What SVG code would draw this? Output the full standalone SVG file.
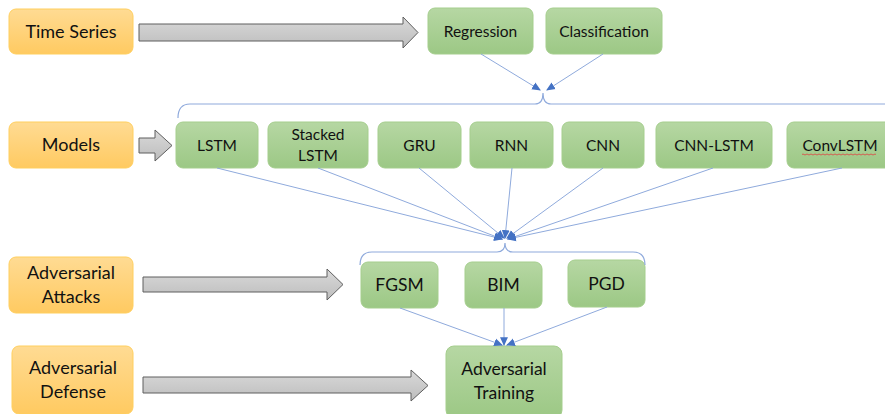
<svg xmlns="http://www.w3.org/2000/svg" width="885" height="414" viewBox="0 0 885 414">
<defs>
<linearGradient id="gOr" x1="0" y1="0" x2="0" y2="1"><stop offset="0" stop-color="#FFDB93"/><stop offset="1" stop-color="#FFCA61"/></linearGradient>
<linearGradient id="gGr" x1="0" y1="0" x2="0" y2="1"><stop offset="0" stop-color="#B6D7A3"/><stop offset="1" stop-color="#9CC885"/></linearGradient>
<linearGradient id="gAr" x1="0" y1="0" x2="0" y2="1"><stop offset="0" stop-color="#D9D9D9"/><stop offset="1" stop-color="#BDBDBD"/></linearGradient>
<marker id="ah" markerUnits="userSpaceOnUse" markerWidth="9" markerHeight="9" viewBox="0 0 8 8" refX="7" refY="4" orient="auto"><path d="M0,0.5 L8,4 L0,7.5 Z" fill="#4472C4"/></marker>
<style>
.or{fill:url(#gOr);stroke:#FFCF5F;stroke-width:1}
.gr{fill:url(#gGr);stroke:#A5CE8D;stroke-width:1}
.ar{fill:url(#gAr);stroke:#5E5E5E;stroke-width:1}
.cn{fill:none;stroke:#8FAADC;stroke-width:1}
.br{fill:none;stroke:#8FAADC;stroke-width:1.2}
text{font-family:Lato,"Open Sans","Liberation Sans",sans-serif;fill:#111;text-anchor:middle}
.lb{font-size:18px}
.bx{font-size:15.5px}
.bg{font-size:17.5px}
</style>
</defs>
<g id="time-series"><rect class="or" x="9" y="9" width="124" height="45" rx="7"/><text class="lb" x="71" y="38">Time Series</text></g>
<g id="models"><rect class="or" x="9" y="122" width="124" height="46" rx="7"/><text class="lb" x="71" y="151">Models</text></g>
<g id="adversarial-attacks"><rect class="or" x="9" y="257" width="124" height="56" rx="7"/><text class="lb" x="71" y="279">Adversarial</text><text class="lb" x="71" y="303">Attacks</text></g>
<g id="adversarial-defense"><rect class="or" x="12" y="346" width="121" height="68" rx="7"/><text class="lb" x="73" y="374">Adversarial</text><text class="lb" x="73" y="398">Defense</text></g>
<g id="arrows">
<path class="ar" d="M139,24 H403 V17 L418,32.5 L403,48 V41 H139 Z"/>
<path class="ar" d="M139,138 H155 V130 L172,145.5 L155,161 V153 H139 Z"/>
<path class="ar" d="M143,277 H327 V269 L343,284.5 L327,300 V292 H143 Z"/>
<path class="ar" d="M143,377 H411 V370 L428,385.5 L411,401 V393 H143 Z"/>
</g>
<g id="regression"><rect class="gr" x="428" y="8" width="105" height="46" rx="7"/><text class="bx" x="480.5" y="37">Regression</text></g>
<g id="classification"><rect class="gr" x="546" y="8" width="116" height="46" rx="7"/><text class="bx" x="604" y="37">Classification</text></g>
<g id="lstm"><rect class="gr" x="176" y="122" width="82" height="46" rx="7"/><text class="bx" x="217" y="151">LSTM</text></g>
<g id="stacked-lstm"><rect class="gr" x="268" y="122" width="100" height="46" rx="7"/><text class="bx" x="318" y="140">Stacked</text><text class="bx" x="318" y="161">LSTM</text></g>
<g id="gru"><rect class="gr" x="378" y="122" width="83" height="46" rx="7"/><text class="bx" x="419.5" y="151">GRU</text></g>
<g id="rnn"><rect class="gr" x="470" y="122" width="83" height="46" rx="7"/><text class="bx" x="511.5" y="151">RNN</text></g>
<g id="cnn"><rect class="gr" x="562" y="122" width="82" height="46" rx="7"/><text class="bx" x="603" y="151">CNN</text></g>
<g id="cnn-lstm"><rect class="gr" x="656" y="122" width="116" height="46" rx="7"/><text class="bx" x="714" y="151">CNN-LSTM</text></g>
<g id="convlstm"><rect class="gr" x="787" y="122" width="106" height="46" rx="7"/><text class="bx" x="840" y="151">ConvLSTM</text><path d="M802,154.5 q1,-1 2,0 t2,0 t2,0 t2,0 t2,0 t2,0 t2,0 t2,0 t2,0 t2,0 t2,0 t2,0 t2,0 t2,0 t2,0 t2,0 t2,0 t2,0 t2,0 t2,0 t2,0 t2,0 t2,0 t2,0 t2,0 t2,0 t2,0 t2,0 t2,0 t2,0 t2,0 t2,0 t2,0 t2,0 t2,0 t2,0 t2,0" fill="none" stroke="#E04040" stroke-width="0.8"/></g>
<g id="fgsm"><rect class="gr" x="361" y="262" width="77" height="46" rx="7"/><text class="bg" x="399.5" y="291">FGSM</text></g>
<g id="bim"><rect class="gr" x="465" y="262" width="77" height="46" rx="7"/><text class="bg" x="503.5" y="291">BIM</text></g>
<g id="pgd"><rect class="gr" x="568" y="260" width="77" height="47" rx="7"/><text class="bg" x="606.5" y="290">PGD</text></g>
<g id="adversarial-training"><rect class="gr" x="446" y="346" width="116" height="72" rx="8"/><text class="bg" x="504" y="375">Adversarial</text><text class="bg" x="504" y="399">Training</text></g>
<g id="connectors">
<path class="br" d="M178,118 Q178,104 190,104 H535 Q543,104 543,93 Q543,104 551,104 H890"/>
<path class="br" d="M360,265 Q360,252 372,252 H497 Q505,252 505,243 Q505,252 513,252 H633 Q645,252 645,265"/>
<line class="cn" x1="481" y1="54" x2="540" y2="90" marker-end="url(#ah)"/>
<line class="cn" x1="603" y1="54" x2="547" y2="90" marker-end="url(#ah)"/>
<line class="cn" x1="217" y1="168" x2="502" y2="239" marker-end="url(#ah)"/>
<line class="cn" x1="318" y1="168" x2="502" y2="239" marker-end="url(#ah)"/>
<line class="cn" x1="419" y1="168" x2="504" y2="238" marker-end="url(#ah)"/>
<line class="cn" x1="512" y1="168" x2="505" y2="238" marker-end="url(#ah)"/>
<line class="cn" x1="603" y1="168" x2="507" y2="238" marker-end="url(#ah)"/>
<line class="cn" x1="713" y1="168" x2="508" y2="239" marker-end="url(#ah)"/>
<line class="cn" x1="842" y1="168" x2="508" y2="239" marker-end="url(#ah)"/>
<line class="cn" x1="400" y1="308" x2="502" y2="345" marker-end="url(#ah)"/>
<line class="cn" x1="504" y1="308" x2="504" y2="345" marker-end="url(#ah)"/>
<line class="cn" x1="607" y1="307" x2="507" y2="345" marker-end="url(#ah)"/>
</g>
</svg>
